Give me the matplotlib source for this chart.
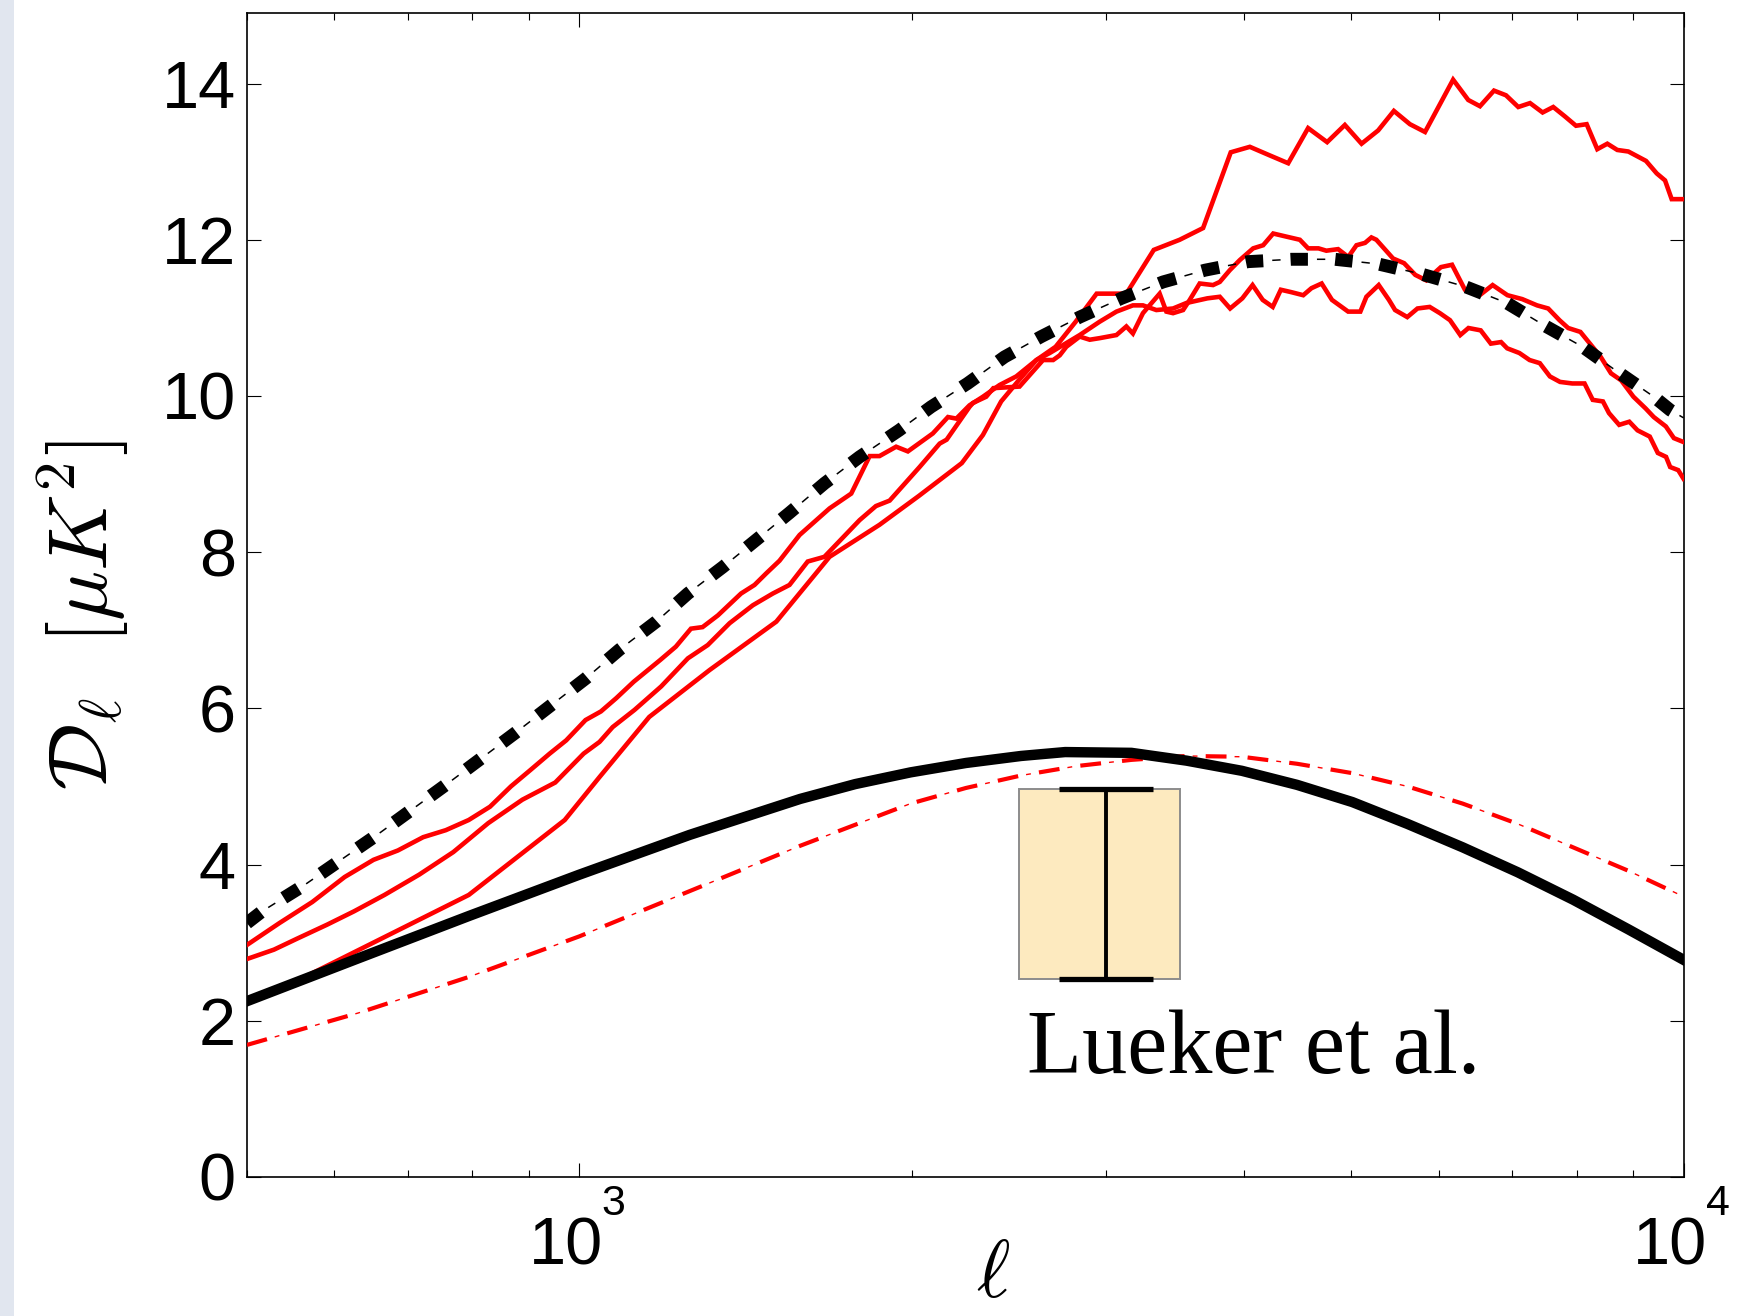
import numpy as np
import matplotlib
matplotlib.use("Agg")
import matplotlib.pyplot as plt
from matplotlib.patches import Rectangle
from matplotlib.ticker import LogLocator, NullFormatter, FixedLocator

plt.rcParams['font.family'] = ['Liberation Sans', 'DejaVu Sans']
plt.rcParams['lines.scale_dashes'] = False

# ---- data ----
# black solid model
bs_ell = [500, 631, 794, 1000, 1259, 1585, 1778, 1995, 2239, 2512, 2754, 3162, 3548, 3981, 4467, 5012,
          5623, 6310, 7079, 7943, 8913, 10000]
bs_D = [2.25, 2.80, 3.34, 3.87, 4.38, 4.84, 5.03, 5.18, 5.30, 5.39, 5.44, 5.43, 5.33, 5.20, 5.02, 4.80,
        4.52, 4.22, 3.90, 3.55, 3.17, 2.78]

# red dash-dot model
rd_ell = [500, 631, 794, 1000, 1259, 1585, 1995, 2239, 2512, 2818, 3162, 3548, 3981, 4467, 5012, 5623,
          6310, 7079, 7943, 8913, 10000]
rd_D = [1.69, 2.10, 2.56, 3.08, 3.66, 4.24, 4.78, 4.98, 5.14, 5.26, 5.34, 5.39, 5.38, 5.29, 5.17, 5.00,
        4.78, 4.52, 4.22, 3.92, 3.59]

# black thick dotted model
bd_ell = [500, 516, 564, 653, 757, 874, 1013, 1087, 1174, 1254, 1349, 1549, 1667, 1794, 1948, 2082, 2247,
          2427, 2620, 2839, 3097, 3378, 3685, 4034, 4415, 4833, 5290, 5790, 6342, 6920, 7465, 8100, 8714,
          9399, 9725, 10000]
bd_D = [3.25, 3.40, 3.74, 4.36, 5.02, 5.68, 6.38, 6.75, 7.11, 7.47, 7.81, 8.50, 8.88, 9.22, 9.56, 9.86, 10.16,
        10.50, 10.76, 11.01, 11.25, 11.46, 11.61, 11.72, 11.75, 11.75, 11.69, 11.56, 11.40, 11.19, 10.91, 10.63, 10.31,
        9.99, 9.82, 9.72]

# red simulation curves
ra_ell = [500, 535, 573, 613, 651, 685, 722, 757, 794, 830, 867, 903, 940, 973, 1013, 1046, 1080, 1120, 1184,
          1223, 1262, 1293, 1335, 1401, 1441, 1477, 1518, 1583, 1685, 1763, 1832, 1870, 1936, 1984, 2090, 2157,
          2195, 2256, 2320, 2402, 2487, 2594, 2667, 2839, 2959, 3065, 3172, 3239, 3331, 3449, 3546, 3705, 3802,
          3885, 3985, 4071, 4158, 4246, 4318, 4411, 4525, 4603, 4702, 4804, 4969, 5097, 5162, 5296, 5410, 5480,
          5621, 5742, 5890, 6017, 6145, 6278, 6386, 6551, 6691, 6835, 6923, 7101, 7254, 7410, 7568, 7729, 7929,
          8135, 8275, 8453, 8561, 8744, 8931, 9085, 9320, 9478, 9642, 9725, 9890, 10000]
ra_D = [2.97, 3.25, 3.52, 3.84, 4.06, 4.18, 4.35, 4.44, 4.57, 4.74, 5.00, 5.21, 5.42, 5.59, 5.85, 5.96, 6.13, 6.34, 6.62,
        6.79, 7.02, 7.04, 7.19, 7.47, 7.58, 7.73, 7.89, 8.22, 8.56, 8.75, 9.23, 9.23, 9.35, 9.29, 9.52, 9.73,
        9.71, 9.88, 9.99, 10.14, 10.25, 10.46, 10.55, 10.78, 10.95, 11.08, 11.16, 11.16, 11.10, 11.12, 11.19, 11.25, 11.27,
        11.12, 11.25, 11.42, 11.23, 11.14, 11.36, 11.33, 11.29, 11.38, 11.44, 11.23, 11.08, 11.08, 11.27, 11.42, 11.23, 11.10,
        11.01, 11.12, 11.14, 11.06, 10.97, 10.78, 10.87, 10.84, 10.67, 10.69, 10.61, 10.55, 10.46, 10.42, 10.25, 10.18, 10.16,
        10.16, 9.95, 9.93, 9.78, 9.63, 9.67, 9.56, 9.48, 9.27, 9.22, 9.09, 9.05, 8.94]

rb_ell = [500, 529, 555, 591, 625, 666, 716, 769, 827, 888, 951, 1009, 1043, 1072, 1122, 1186, 1254, 1307, 1368,
          1436, 1497, 1550, 1610, 1667, 1794, 1856, 1910, 2033, 2120, 2151, 2256, 2272, 2336, 2371, 2504, 2630,
          2686, 2723, 2761, 2839, 2899, 2959, 3065, 3129, 3172, 3239, 3354, 3401, 3449, 3522, 3571, 3646, 3749,
          3802, 3882, 3964, 4076, 4162, 4250, 4369, 4493, 4571, 4671, 4748, 4866, 4970, 5056, 5147, 5216, 5270,
          5457, 5584, 5716, 5848, 6030, 6171, 6339, 6537, 6716, 6927, 7144, 7368, 7541, 7721, 7862, 8065, 8414,
          8596, 8780, 9008, 9240, 9398, 9638, 9801, 10000]
rb_D = [2.79, 2.91, 3.05, 3.23, 3.40, 3.61, 3.87, 4.16, 4.53, 4.83, 5.05, 5.42, 5.57, 5.76, 5.98, 6.28, 6.64, 6.81, 7.09,
        7.32, 7.47, 7.58, 7.88, 7.94, 8.41, 8.59, 8.66, 9.09, 9.39, 9.44, 9.86, 9.91, 9.99, 10.10, 10.12, 10.46,
        10.46, 10.52, 10.63, 10.76, 10.72, 10.74, 10.78, 10.89, 10.80, 11.06, 11.31, 11.08, 11.06, 11.10, 11.23, 11.44, 11.42,
        11.46, 11.61, 11.74, 11.89, 11.93, 12.08, 12.04, 12.00, 11.89, 11.89, 11.86, 11.88, 11.78, 11.93, 11.96, 12.03, 12.00,
        11.76, 11.70, 11.55, 11.48, 11.65, 11.68, 11.36, 11.29, 11.42, 11.29, 11.24, 11.16, 11.12, 10.97, 10.87, 10.82, 10.50,
        10.29, 10.20, 9.99, 9.84, 9.73, 9.61, 9.46, 9.41]

rc_ell = [500, 564, 794, 970, 1043, 1157, 1312, 1508, 1685, 1870, 2030, 2220, 2320, 2410, 2500, 2594, 2700, 2815,
          2941, 3129, 3313, 3497, 3672, 3890, 4048, 4220, 4385, 4571, 4756, 4935, 5110, 5290, 5466, 5652, 5833,
          6185, 6383, 6541, 6735, 6906, 7085, 7261, 7454, 7621, 7808, 7991, 8171, 8354, 8531, 8710, 8913, 9247,
          9456, 9622, 9756, 10000]
rc_D = [2.25, 2.56, 3.61, 4.57, 5.12, 5.89, 6.49, 7.11, 7.94, 8.35, 8.72, 9.14, 9.50, 9.93, 10.20, 10.46, 10.63, 10.95,
        11.31, 11.31, 11.87, 12.00, 12.15, 13.12, 13.19, 13.08, 12.98, 13.43, 13.25, 13.47, 13.23, 13.40, 13.65, 13.48, 13.38,
        14.05, 13.79, 13.71, 13.91, 13.85, 13.70, 13.75, 13.63, 13.70, 13.58, 13.46, 13.48, 13.16, 13.23, 13.15, 13.13, 13.01,
        12.85, 12.76, 12.52, 12.52]

# Lueker et al. measurement
lueker_ell = 3000
lueker_D = 3.75
lueker_err = 1.22
lueker_box_ell = [2500, 3500]

yticks = [0, 2, 4, 6, 8, 10, 12, 14]
xmajor = [1000, 10000]
xmajor_exp = ['3', '4']

# ---- figure ----
fig = plt.figure(figsize=(17.39, 13.16), dpi=100)
fig.patches.append(Rectangle((0, 0), 14 / 1739, 1, transform=fig.transFigure,
                             facecolor='#e1e6ef', edgecolor='none', zorder=0))
ax = fig.add_axes([0.1420, 0.1057, 0.9681 - 0.1420, 0.9899 - 0.1057])
ax.set_xscale('log')

# box behind the error bar
ax.add_patch(Rectangle((lueker_box_ell[0], lueker_D - lueker_err),
                       lueker_box_ell[1] - lueker_box_ell[0], 2 * lueker_err,
                       facecolor='#fdeabf', edgecolor='#8c8c8c', lw=1.4, zorder=1))
ax.errorbar([lueker_ell], [lueker_D], yerr=[lueker_err], fmt='none', ecolor='black',
            elinewidth=2.8, capsize=34, capthick=3.8, zorder=2)

for e, d in [(ra_ell, ra_D), (rb_ell, rb_D), (rc_ell, rc_D)]:
    ax.plot(e, d, color='red', lw=3.3, solid_joinstyle='miter', zorder=3)

# red dash-dot
ax.plot(rd_ell, rd_D, color='red', lw=3.0, linestyle=(0, (15, 15.2)), zorder=4)
ax.plot(rd_ell, rd_D, color='red', lw=1.0, linestyle=(9.4, (3.5, 26.7)), zorder=4)

# black solid
ax.plot(bs_ell, bs_D, color='black', lw=7.5, zorder=5)

# black thick dotted + thin dash-dot
ax.plot(bd_ell, bd_D, color='black', lw=9.3, linestyle=(0, (12.5, 19.7)), zorder=6)
ax.plot(bd_ell, bd_D, color='black', lw=1.1, linestyle=(13.2, (6.0, 26.2)), zorder=6)

ax.text(2541, 1.33, 'Lueker et al.', family='Liberation Serif', fontsize=65,
        ha='left', va='baseline', zorder=7)

ax.set_xlim(500, 10000)
ax.set_ylim(0, 14.9)
ax.set_yticks(yticks)
ax.xaxis.set_major_locator(FixedLocator(xmajor))
ax.xaxis.set_minor_locator(LogLocator(base=10, subs=np.arange(2, 10)))
ax.xaxis.set_major_formatter(NullFormatter())
ax.xaxis.set_minor_formatter(NullFormatter())

ax.tick_params(which='both', direction='in', top=True, right=True, width=0.8)
ax.tick_params(which='major', length=10)
ax.tick_params(which='minor', length=5)
ax.tick_params(axis='y', labelsize=48, pad=8)
for s in ax.spines.values():
    s.set_linewidth(1.2)

# x tick labels: "10" with a raised exponent
for v, ex in zip(xmajor, xmajor_exp):
    ax.annotate('10', xy=(v, 0), xycoords=('data', 'axes fraction'), xytext=(-9.5, -28.6),
                textcoords='offset points', ha='center', va='top', fontsize=48, annotation_clip=False)
    ax.annotate(ex, xy=(v, 0), xycoords=('data', 'axes fraction'), xytext=(16, -5.0),
                textcoords='offset points', ha='left', va='top', fontsize=31, annotation_clip=False)

fig.text(83 / 1739, 1 - 615 / 1316, r'$\mathcal{D}_\ell\ \ [\mu K^2]$', rotation=90,
         ha='center', va='center', fontsize=60, math_fontfamily='cm')
fig.text(993 / 1739, 1 - 1276 / 1316, r'$\ell$', ha='center', va='center',
         fontsize=58, math_fontfamily='cm')

fig.savefig('out.png', dpi=100)
